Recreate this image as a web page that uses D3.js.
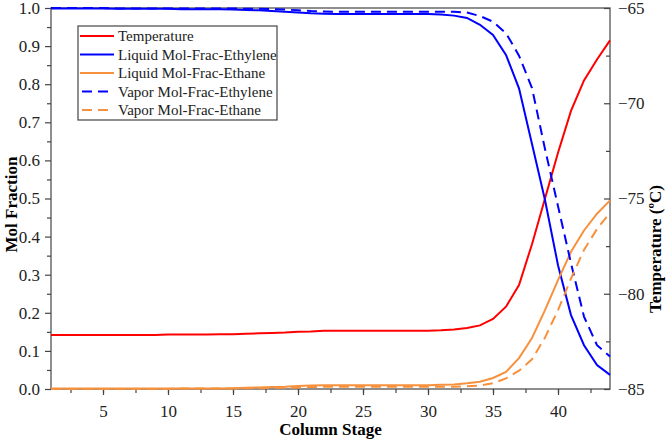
<!DOCTYPE html>
<html>
<head>
<meta charset="utf-8">
<script src="https://cdn.jsdelivr.net/npm/d3@7"></script>
<style>
  body { margin: 0; background: #fff; }
  svg, svg text { font-family: "Liberation Serif", "Times New Roman", serif; }
</style>
</head>
<body>
<svg width="666" height="440"></svg>
<script>
// column stages 1..44
var stages = d3.range(1, 45);

// temperature per stage (deg C)
var temperature = [-82.16,-82.16,-82.16,-82.16,-82.16,-82.16,-82.16,-82.16,-82.16,-82.14,
  -82.14,-82.14,-82.14,-82.12,-82.12,-82.10,-82.08,-82.06,-82.04,-82.00,
  -81.98,-81.94,-81.94,-81.94,-81.94,-81.94,-81.94,-81.94,-81.94,-81.94,
  -81.92,-81.88,-81.80,-81.66,-81.32,-80.68,-79.54,-77.40,-75.00,-72.60,
  -70.40,-68.80,-67.70,-66.70];

var liqEthylene = [0.999,0.999,0.999,0.999,0.999,0.998,0.998,0.998,0.998,0.998,
  0.997,0.997,0.997,0.997,0.996,0.995,0.994,0.992,0.990,0.988,
  0.986,0.985,0.984,0.984,0.984,0.984,0.984,0.984,0.984,0.984,
  0.983,0.980,0.974,0.956,0.929,0.877,0.789,0.643,0.496,0.325,
  0.194,0.115,0.063,0.037];

var liqEthane = [0.001,0.001,0.001,0.001,0.001,0.001,0.001,0.001,0.001,0.001,
  0.001,0.001,0.001,0.001,0.002,0.003,0.004,0.005,0.006,0.008,
  0.009,0.010,0.010,0.010,0.010,0.010,0.010,0.010,0.010,0.010,
  0.011,0.012,0.015,0.019,0.029,0.045,0.081,0.134,0.207,0.286,
  0.360,0.416,0.460,0.495];

var vapEthylene = [1.000,1.000,1.000,1.000,1.000,0.999,0.999,0.999,0.999,0.999,
  0.999,0.999,0.999,0.999,0.999,0.998,0.998,0.997,0.996,0.994,
  0.992,0.991,0.990,0.990,0.990,0.990,0.990,0.990,0.990,0.990,
  0.990,0.990,0.988,0.979,0.964,0.934,0.875,0.790,0.630,0.480,
  0.330,0.190,0.115,0.085];

var vapEthane = [0.000,0.000,0.000,0.000,0.000,0.000,0.000,0.000,0.000,0.000,
  0.001,0.001,0.001,0.001,0.001,0.002,0.002,0.003,0.003,0.004,
  0.005,0.006,0.006,0.006,0.006,0.006,0.006,0.006,0.006,0.006,
  0.006,0.006,0.007,0.009,0.015,0.028,0.048,0.078,0.135,0.207,
  0.290,0.365,0.420,0.463];

var legendLabels = ["Temperature","Liquid Mol-Frac-Ethylene","Liquid Mol-Frac-Ethane",
  "Vapor Mol-Frac-Ethylene","Vapor Mol-Frac-Ethane"];

var red = "#ff0000", blue = "#0000ff", orange = "#f7913d";
var axisColor = "#444";
var serif = "'Liberation Serif', 'Times New Roman', serif";

var svg = d3.select("svg");
// plot box (window.top is reserved, so use a margin object)
var box = { left: 51, right: 610, top: 8, bottom: 389 };

var x = d3.scaleLinear().domain([1, 44]).range([box.left, box.right]);
var y = d3.scaleLinear().domain([0, 1]).range([box.bottom, box.top]);
var yT = d3.scaleLinear().domain([-85, -65]).range([box.bottom, box.top]);

// frame
svg.append("rect")
    .attr("x", box.left).attr("y", box.top)
    .attr("width", box.right - box.left).attr("height", box.bottom - box.top)
    .attr("fill", "none")
    .attr("stroke", axisColor)
    .attr("stroke-width", 1.2);

function styleAxis(g) {
  g.attr("font-family", serif).attr("font-size", 17);
  g.select(".domain").remove();
  g.selectAll("line").attr("stroke", axisColor).attr("stroke-width", 1.2);
  g.selectAll("text").attr("fill", "#222");
}

// bottom axis: majors + minors
svg.append("g")
    .attr("transform", "translate(0," + box.bottom + ")")
    .call(d3.axisBottom(x).tickValues(d3.range(2.5, 44, 2.5)).tickSize(4).tickFormat(""))
    .call(styleAxis);
svg.append("g")
    .attr("transform", "translate(0," + box.bottom + ")")
    .call(d3.axisBottom(x).tickValues(d3.range(5, 44, 5)).tickSize(6).tickPadding(10).tickFormat(d3.format("d")))
    .call(styleAxis);

// left axis
svg.append("g")
    .attr("transform", "translate(" + box.left + ",0)")
    .call(d3.axisLeft(y).tickValues(d3.range(0.05, 1, 0.1)).tickSize(4).tickFormat(""))
    .call(styleAxis);
svg.append("g")
    .attr("transform", "translate(" + box.left + ",0)")
    .call(d3.axisLeft(y).tickValues(d3.range(0, 1.01, 0.1)).tickSize(6).tickPadding(5).tickFormat(d3.format(".1f")))
    .call(styleAxis);

// right axis, ticks point inward
var rAxis = svg.append("g")
    .attr("transform", "translate(" + box.right + ",0)")
    .call(d3.axisRight(yT).tickValues(d3.range(-85, -64, 2.5)).tickSize(0).tickFormat(""))
    .call(styleAxis);
rAxis.selectAll(".tick line").remove();
rAxis.selectAll(".tick").append("line")
    .attr("x1", 0)
    .attr("x2", function(d) { return d % 5 === 0 ? -6 : -4; })
    .attr("stroke", axisColor).attr("stroke-width", 1.2);
svg.append("g")
    .attr("transform", "translate(" + box.right + ",0)")
    .call(d3.axisRight(yT).tickValues(d3.range(-85, -64, 5)).tickSize(0).tickPadding(8).tickFormat(d3.format("d")))
    .call(styleAxis);

// axis titles
svg.append("text")
    .attr("transform", "translate(17," + ((box.top + box.bottom) / 2 + 6) + ") rotate(-90)")
    .attr("text-anchor", "middle")
    .attr("font-family", serif)
    .style("font-size", "17px").style("font-weight", "bold")
    .text("Mol Fraction");
svg.append("text")
    .attr("x", (box.left + box.right) / 2).attr("y", 435)
    .attr("text-anchor", "middle")
    .attr("font-family", serif)
    .style("font-size", "17px").style("font-weight", "bold")
    .text("Column Stage");
svg.append("text")
    .attr("transform", "translate(661,249) rotate(-90)")
    .attr("text-anchor", "middle")
    .attr("font-family", serif)
    .style("font-size", "17px").style("font-weight", "bold")
    .text("Temperature (\u00baC)");

// series
var series = [
  { values: temperature, scale: yT, color: red, dash: null },
  { values: liqEthylene, scale: y, color: blue, dash: null },
  { values: liqEthane, scale: y, color: orange, dash: null },
  { values: vapEthylene, scale: y, color: blue, dash: "10,6" },
  { values: vapEthane, scale: y, color: orange, dash: "10,6" }
];

var plot = svg.append("g");
series.forEach(function(s) {
  var line = d3.line()
      .x(function(d, i) { return x(stages[i]); })
      .y(function(d) { return s.scale(d); });
  plot.append("path")
      .datum(s.values)
      .attr("d", line)
      .attr("fill", "none")
      .attr("stroke", s.color)
      .attr("stroke-width", 2)
      .attr("stroke-dasharray", s.dash);
});

// legend
var legend = svg.append("g").attr("transform", "translate(78,26)");
legend.append("rect")
    .attr("width", 199).attr("height", 94)
    .attr("fill", "#fff")
    .attr("stroke", axisColor).attr("stroke-width", 1.2);
var item = legend.selectAll(".item")
    .data(series)
    .enter().append("g")
    .attr("transform", function(d, i) { return "translate(0," + (10 + i * 18.5) + ")"; });
item.append("line")
    .attr("x1", 2).attr("x2", 36)
    .attr("stroke", function(d) { return d.color; })
    .attr("stroke-width", 2)
    .attr("stroke-dasharray", function(d) { return d.dash ? "10,6" : null; })
    .attr("stroke-dashoffset", function(d) { return d.dash ? -2 : null; });
item.append("text")
    .attr("x", 40).attr("y", 5)
    .attr("font-family", serif)
    .style("font-size", "15px")
    .attr("fill", "#222")
    .text(function(d, i) { return legendLabels[i]; });
</script>
</body>
</html>
